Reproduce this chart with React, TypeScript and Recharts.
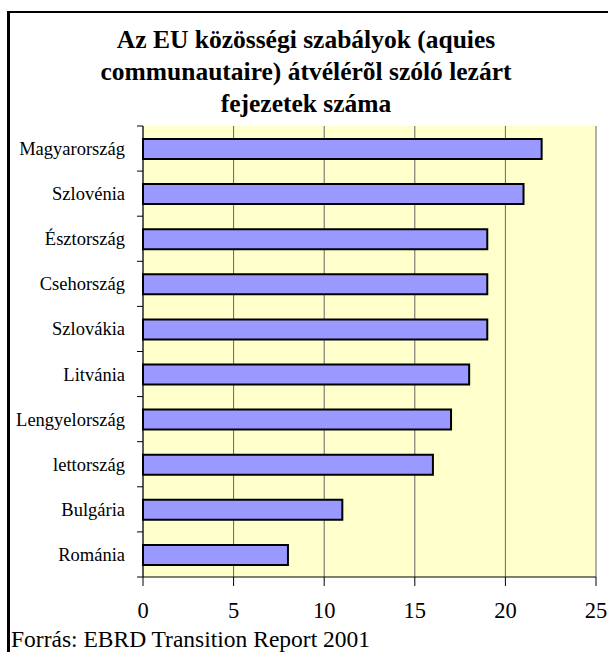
import { BarChart, Bar, XAxis, YAxis, CartesianGrid } from 'recharts';

const countries = [
  'Magyarország',
  'Szlovénia',
  'Észtország',
  'Csehország',
  'Szlovákia',
  'Litvánia',
  'Lengyelország',
  'lettország',
  'Bulgária',
  'Románia',
];
const closedChapters = [22, 21, 19, 19, 19, 18, 17, 16, 11, 8];
const xTicks = [0, 5, 10, 15, 20, 25];

const titleLines = [
  'Az EU közösségi szabályok (aquies',
  'communautaire) átvélérõl szóló lezárt',
  'fejezetek száma',
];
const sourceNote = 'Forrás: EBRD Transition Report 2001';

const data = countries.map((name, i) => ({ name, value: closedChapters[i] }));

const W = 608;
const H = 652;
const margin = { top: 126, right: 12, bottom: 35, left: 0 };
const xAxisHeight = 40;
const band = (H - margin.top - margin.bottom - xAxisHeight) / countries.length;
const serif = '"Liberation Serif", Tinos, "Nimbus Roman", "DejaVu Serif", serif';

// category label plus the little boundary ticks excel draws between bars
const CategoryTick = (props: any) => {
  const { x, y, payload, index } = props;
  const last = index === countries.length - 1;
  return (
    <g>
      <line x1={x - 6} x2={x} y1={y - band / 2} y2={y - band / 2} stroke="#000" />
      {last && <line x1={x - 6} x2={x} y1={y + band / 2} y2={y + band / 2} stroke="#000" />}
      <text x={x - 18} y={y} dy="0.35em" textAnchor="end" fontFamily={serif} fontSize={18.5} fill="#000">
        {payload.value}
      </text>
    </g>
  );
};

export default function App() {
  return (
    <div style={{ position: 'relative', width: W, height: H, overflow: 'hidden', background: '#fff' }}>
      <style>{'body{margin:0}'}</style>
      <div
        style={{
          position: 'absolute',
          left: 7,
          top: 11,
          width: W + 40,
          height: H + 40,
          borderTop: '2px solid #000',
          borderLeft: '3px solid #000',
          boxSizing: 'border-box',
        }}
      />
      <div
        style={{
          position: 'absolute',
          left: 8,
          top: 24,
          width: 596,
          textAlign: 'center',
          fontFamily: serif,
          fontWeight: 'bold',
          fontSize: 25.5,
          lineHeight: '32px',
          color: '#000',
          whiteSpace: 'nowrap',
        }}
      >
        {titleLines.map((t) => (
          <div key={t}>{t}</div>
        ))}
      </div>
      <BarChart
        width={W}
        height={H}
        data={data}
        layout="vertical"
        margin={margin}
        barSize={20}
        style={{ position: 'absolute', left: 0, top: 0 }}
      >
        <CartesianGrid horizontal={false} stroke="#666" fill="#FFFFCC" fillOpacity={1} />
        <XAxis
          type="number"
          domain={[0, 25]}
          ticks={xTicks}
          interval={0}
          height={xAxisHeight}
          tickSize={9}
          tickMargin={16}
          axisLine={{ stroke: '#000' }}
          tickLine={{ stroke: '#000' }}
          tick={{ fontFamily: serif, fontSize: 22.5, fill: '#000' }}
        />
        <XAxis
          xAxisId="top"
          orientation="top"
          type="number"
          domain={[0, 25]}
          height={0}
          tick={false}
          tickLine={false}
          axisLine={{ stroke: '#8c8c8c', strokeWidth: 2 }}
        />
        <YAxis
          type="category"
          dataKey="name"
          width={143}
          tickLine={false}
          tickSize={0}
          tickMargin={0}
          interval={0}
          axisLine={{ stroke: '#000' }}
          tick={<CategoryTick />}
        />
        <Bar dataKey="value" fill="#9999FF" stroke="#000" strokeWidth={2} isAnimationActive={false} />
      </BarChart>
      <div
        style={{
          position: 'absolute',
          left: 11,
          top: 626,
          fontFamily: serif,
          fontSize: 23.5,
          lineHeight: '26px',
          color: '#000',
          whiteSpace: 'nowrap',
        }}
      >
        {sourceNote}
      </div>
    </div>
  );
}
